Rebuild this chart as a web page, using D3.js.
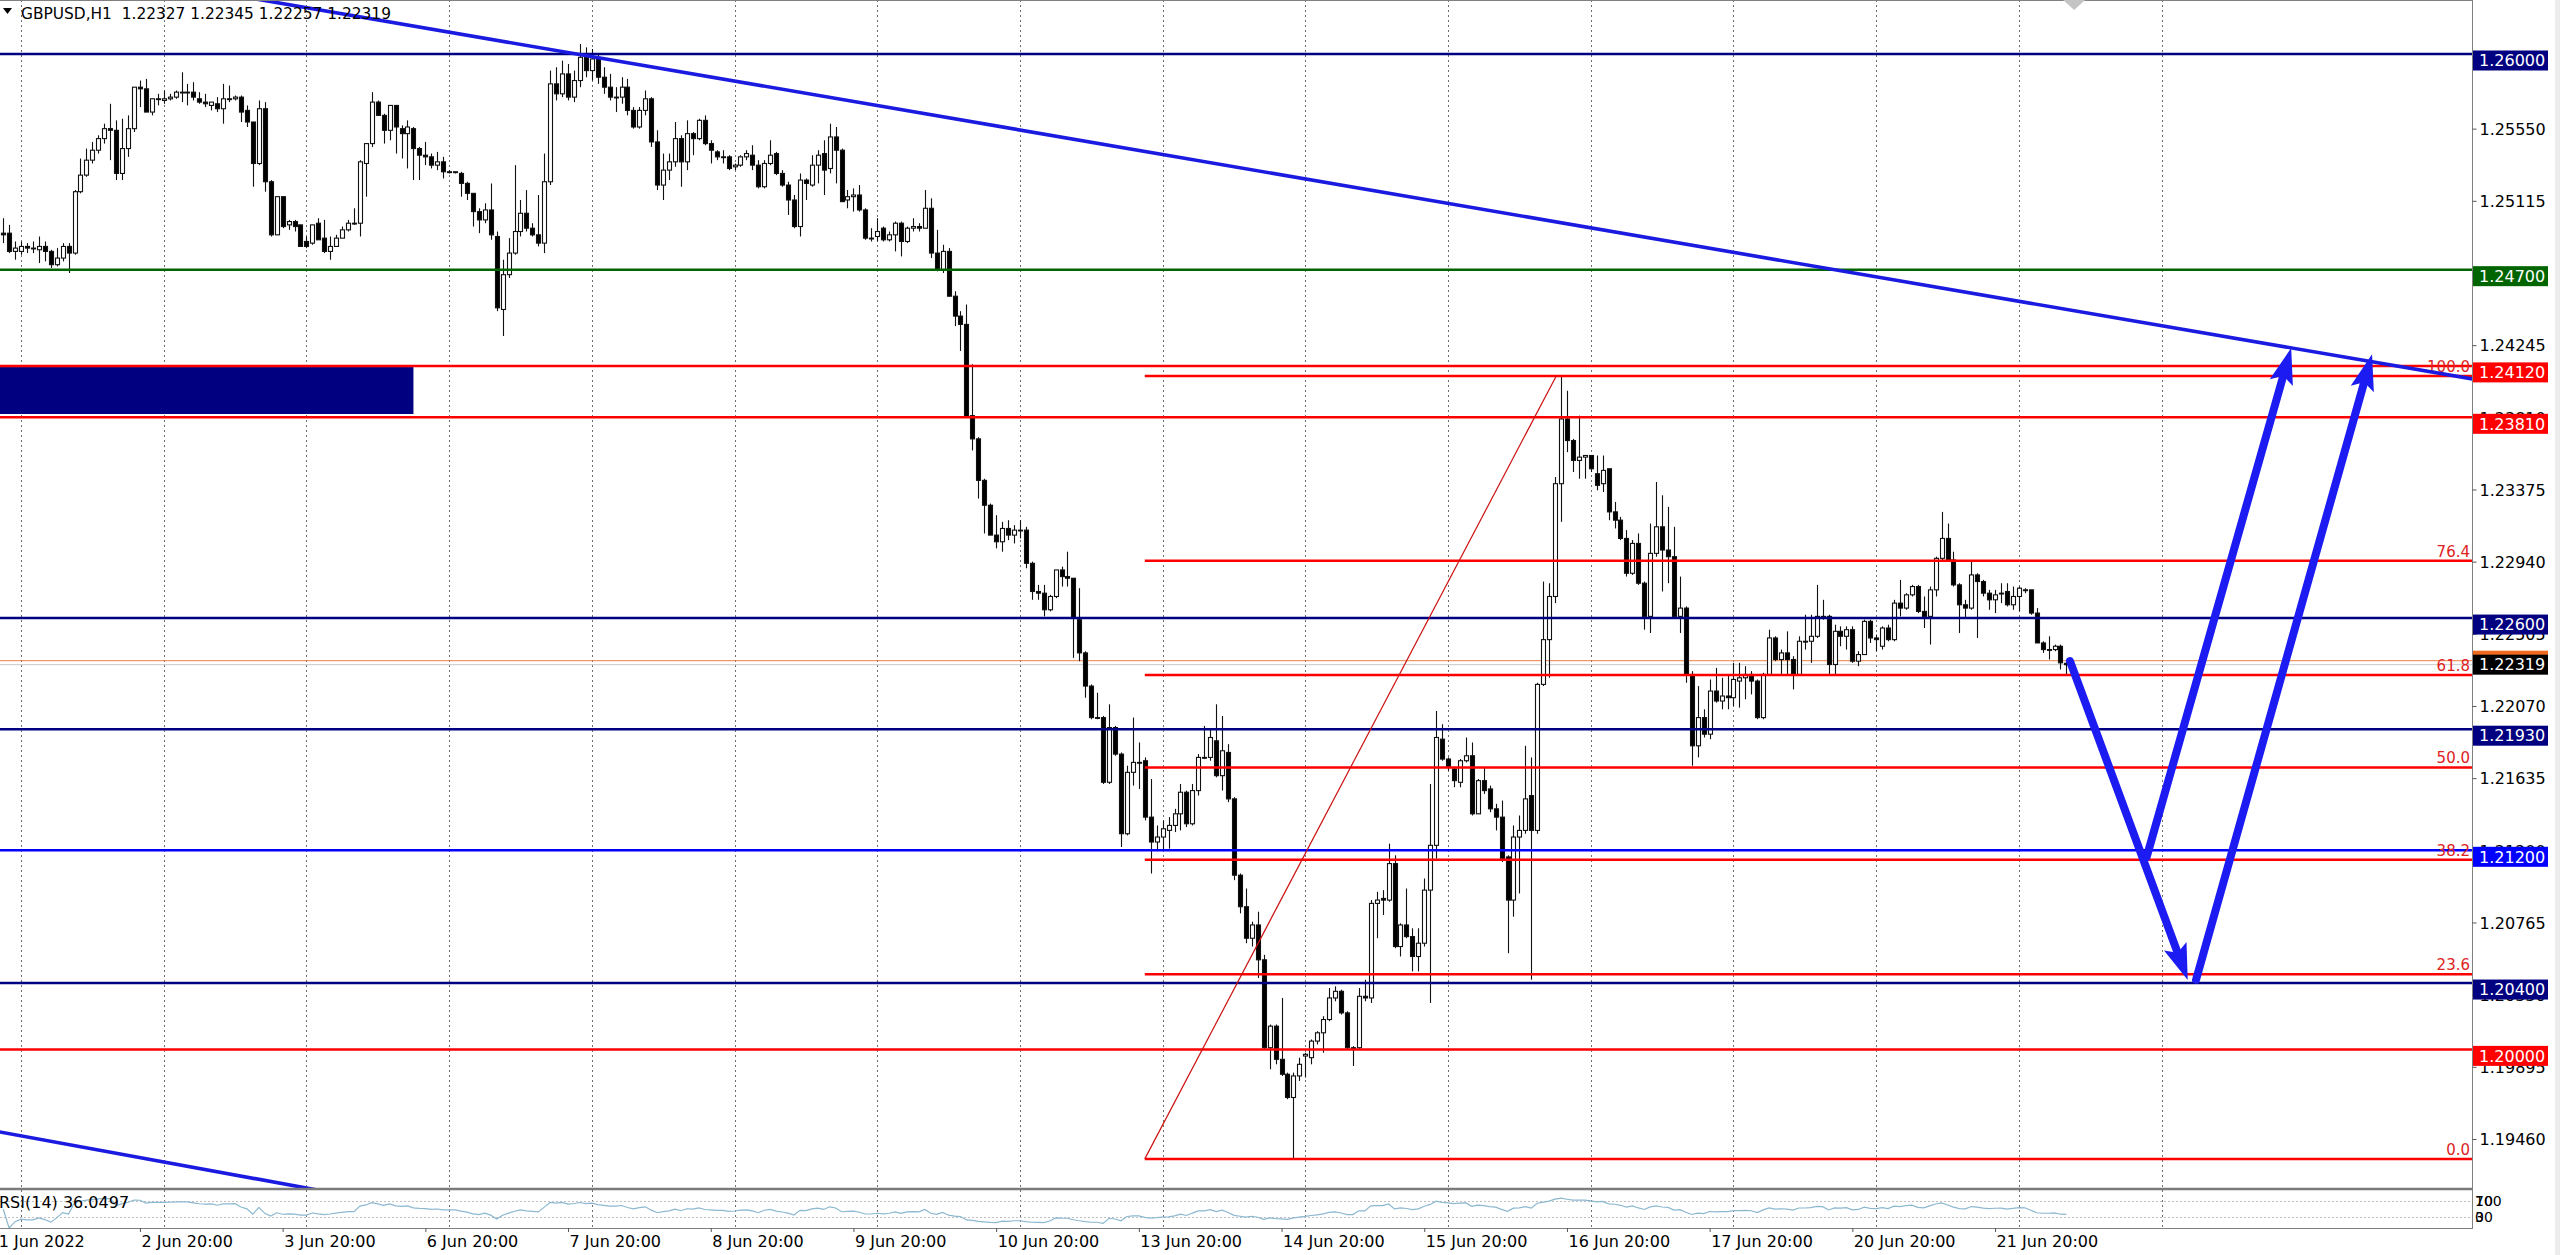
<!DOCTYPE html>
<html><head><meta charset="utf-8">
<script src="https://cdn.jsdelivr.net/npm/d3@7"></script>
<style>
html,body{margin:0;padding:0;background:#fff;overflow:hidden}
svg{display:block}
text{font-family:"DejaVu Sans",sans-serif}
</style></head><body>
<svg id="c" width="2560" height="1255"></svg>
<script>
// ---------------- DATA ----------------
// bar index = weekday hours counted from 1 Jun 2022 00:00 (H1 bars)
const firstBar = 21;
const opens = [
1.2492,1.2492,1.2481,1.2481,1.2484,1.2483,1.2482,1.2484,1.2481,1.2473,1.2477,1.2484,
1.2480,1.2517,1.2527,1.2536,1.2542,1.2549,1.2555,1.2554,1.2528,1.2543,1.2555,1.2580,
1.2579,1.2565,1.2573,1.2572,1.2573,1.2574,1.2577,1.2577,1.2577,1.2573,1.2571,1.2569,
1.2570,1.2567,1.2573,1.2573,1.2574,1.2566,1.2559,1.2534,1.2567,1.2523,1.2491,1.2514,
1.2497,1.2499,1.2497,1.2487,1.2486,1.2498,1.2489,1.2481,1.2484,1.2489,1.2494,1.2498,
1.2498,1.2534,1.2546,1.2571,1.2563,1.2554,1.2569,1.2555,1.2552,1.2555,1.2543,1.2539,
1.2538,1.2533,1.2535,1.2529,1.2529,1.2528,1.2522,1.2516,1.2505,1.2500,1.2506,1.2490,
1.2446,1.2467,1.2480,1.2493,1.2504,1.2495,1.2491,1.2486,1.2523,1.2582,1.2576,1.2588,
1.2574,1.2584,1.2598,1.2590,1.2597,1.2586,1.2580,1.2574,1.2574,1.2580,1.2566,1.2556,
1.2566,1.2573,1.2547,1.2521,1.2530,1.2535,1.2549,1.2535,1.2552,1.2549,1.2560,1.2546,
1.2541,1.2538,1.2538,1.2532,1.2533,1.2538,1.2539,1.2533,1.2520,1.2534,1.2540,1.2528,
1.2521,1.2512,1.2496,1.2524,1.2521,1.2533,1.2540,1.2531,1.2550,1.2542,1.2512,1.2514,
1.2515,1.2506,1.2489,1.2490,1.2495,1.2488,1.2491,1.2498,1.2487,1.2495,1.2496,1.2495,
1.2507,1.2480,1.2470,1.2481,1.2454,1.2442,1.2437,1.2382,1.2368,1.2343,1.2328,1.2310,
1.2306,1.2314,1.2310,1.2313,1.2313,1.2293,1.2276,1.2275,1.2265,1.2273,1.2289,1.2285,
1.2284,1.2259,1.2239,1.2219,1.2200,1.2200,1.2161,1.2194,1.2178,1.2130,1.2167,1.2173,
1.2174,1.2140,1.2125,1.2128,1.2132,1.2135,1.2142,1.2155,1.2136,1.2156,1.2176,1.2176,
1.2186,1.2165,1.2179,1.2151,1.2105,1.2086,1.2067,1.2075,1.2054,1.2001,1.2014,1.1994,
1.1985,1.1971,1.1984,1.1996,1.1995,1.2005,1.2010,1.2018,1.2031,1.2035,1.2022,1.2001,
1.2001,1.2032,1.2031,1.2088,1.2091,1.2090,1.2112,1.2062,1.2075,1.2068,1.2056,1.2064,
1.2096,1.2123,1.2187,1.2175,1.2169,1.2161,1.2174,1.2177,1.2142,1.2162,1.2157,1.2145,
1.2140,1.2116,1.2090,1.2128,1.2132,1.2153,1.2132,1.2220,1.2247,1.2273,1.2341,1.2380,
1.2367,1.2355,1.2357,1.2358,1.2347,1.2341,1.2350,1.2324,1.2319,1.2308,1.2287,1.2305,
1.2281,1.2261,1.2299,1.2315,1.2301,1.2297,1.2261,1.2266,1.2226,1.2183,1.2200,1.2190,
1.2216,1.2210,1.2213,1.2212,1.2222,1.2224,1.2226,1.2222,1.2200,1.2226,1.2248,1.2235,
1.2239,1.2235,1.2226,1.2246,1.2246,1.2249,1.2261,1.2261,1.2232,1.2252,1.2249,1.2253,
1.2234,1.2238,1.2258,1.2248,1.2243,1.2254,1.2247,1.2269,1.2266,1.2274,1.2279,1.2264,
1.2261,1.2277,1.2296,1.2308,1.2295,1.2280,1.2268,1.2266,1.2286,1.2282,1.2275,1.2271,
1.2275,1.2276,1.2268,1.2273,1.2277,1.2277,1.2263,1.2245,1.2241,1.2241,1.2243,1.22327];
const highs = [
1.2501,1.2497,1.2487,1.2487,1.2486,1.2487,1.2490,1.2487,1.2482,1.2483,1.2486,1.2486,
1.2518,1.2537,1.2543,1.2547,1.2551,1.2558,1.2570,1.2560,1.2561,1.2563,1.2580,1.2584,
1.2585,1.2573,1.2576,1.2578,1.2576,1.2578,1.2589,1.2582,1.2583,1.2577,1.2576,1.2571,
1.2574,1.2582,1.2581,1.2575,1.2575,1.2569,1.2559,1.2572,1.2571,1.2524,1.2514,1.2514,
1.2500,1.2500,1.2497,1.2490,1.2497,1.2501,1.2500,1.2490,1.2491,1.2496,1.2500,1.2507,
1.2536,1.2546,1.2577,1.2572,1.2564,1.2569,1.2569,1.2557,1.2560,1.2556,1.2544,1.2547,
1.2540,1.2541,1.2538,1.2530,1.2529,1.2529,1.2523,1.2516,1.2507,1.2510,1.2522,1.2493,
1.2476,1.2489,1.2533,1.2512,1.2518,1.2498,1.2515,1.2540,1.2590,1.2592,1.2596,1.2594,
1.2590,1.2606,1.2604,1.2603,1.2600,1.2592,1.2588,1.2580,1.2586,1.2585,1.2568,1.2568,
1.2578,1.2574,1.2554,1.2540,1.2540,1.2559,1.2551,1.2560,1.2553,1.2561,1.2563,1.2548,
1.2542,1.2542,1.2539,1.2534,1.2539,1.2542,1.2545,1.2536,1.2536,1.2548,1.2541,1.2530,
1.2523,1.2515,1.2528,1.2525,1.2539,1.2542,1.2548,1.2558,1.2556,1.2543,1.2518,1.2519,
1.2521,1.2507,1.2495,1.2501,1.2496,1.2493,1.2499,1.2499,1.2496,1.2501,1.2498,1.2518,
1.2513,1.2494,1.2485,1.2483,1.2457,1.2445,1.2449,1.2413,1.2369,1.2344,1.2329,1.2322,
1.2318,1.2319,1.2316,1.2319,1.2315,1.2294,1.2280,1.2280,1.2274,1.2289,1.2291,1.2300,
1.2284,1.2278,1.2240,1.2220,1.2215,1.2201,1.2208,1.2195,1.2179,1.2171,1.2200,1.2185,
1.2176,1.2163,1.2135,1.2138,1.2140,1.2145,1.2160,1.2156,1.2160,1.2178,1.2195,1.2193,
1.2208,1.2201,1.2184,1.2152,1.2106,1.2097,1.2077,1.2083,1.2057,1.2015,1.2015,1.2031,
1.1986,1.1986,1.1995,1.1998,1.2006,1.2011,1.2020,1.2037,1.2038,1.2036,1.2023,1.2002,
1.2037,1.2042,1.2090,1.2095,1.2096,1.2124,1.2117,1.2076,1.2097,1.2073,1.2073,1.2103,
1.2160,1.2204,1.2196,1.2176,1.2170,1.2175,1.2188,1.2185,1.2163,1.2170,1.2159,1.2148,
1.2150,1.2117,1.2135,1.2141,1.2183,1.2176,1.2221,1.2282,1.2281,1.2345,1.2406,1.2397,
1.2368,1.2382,1.2358,1.2358,1.2358,1.2358,1.2350,1.2330,1.2321,1.2313,1.2307,1.2311,
1.2282,1.2317,1.2342,1.2334,1.2327,1.2315,1.2285,1.2267,1.2228,1.2219,1.2205,1.2223,
1.2230,1.2224,1.2226,1.2233,1.2233,1.2231,1.2228,1.2223,1.2227,1.2253,1.2249,1.2241,
1.2252,1.2237,1.2249,1.2262,1.2262,1.2280,1.2271,1.2262,1.2256,1.2255,1.2255,1.2255,
1.2240,1.2259,1.2259,1.2250,1.2255,1.2256,1.2271,1.2283,1.2275,1.2280,1.2280,1.2273,
1.2279,1.2297,1.2324,1.2317,1.2300,1.2281,1.2271,1.2294,1.2287,1.2283,1.2277,1.2277,
1.2281,1.2281,1.2279,1.2279,1.2278,1.2277,1.2266,1.2246,1.2249,1.2244,1.2244,1.22345];
const lows = [
1.2486,1.2480,1.2476,1.2479,1.2480,1.2480,1.2474,1.2475,1.2471,1.2472,1.2475,1.2468,
1.2479,1.2516,1.2526,1.2534,1.2540,1.2546,1.2536,1.2524,1.2524,1.2538,1.2553,1.2568,
1.2565,1.2563,1.2569,1.2570,1.2572,1.2573,1.2571,1.2569,1.2572,1.2570,1.2568,1.2566,
1.2565,1.2558,1.2571,1.2572,1.2559,1.2556,1.2520,1.2533,1.2517,1.2490,1.2491,1.2495,
1.2494,1.2493,1.2484,1.2483,1.2485,1.2488,1.2480,1.2476,1.2484,1.2489,1.2493,1.2497,
1.2490,1.2514,1.2544,1.2563,1.2546,1.2548,1.2540,1.2537,1.2531,1.2524,1.2524,1.2533,
1.2531,1.2530,1.2525,1.2528,1.2528,1.2514,1.2512,1.2496,1.2492,1.2498,1.2488,1.2445,
1.2430,1.2465,1.2479,1.2490,1.2493,1.2490,1.2484,1.2480,1.2521,1.2572,1.2574,1.2572,
1.2571,1.2580,1.2586,1.2584,1.2582,1.2576,1.2572,1.2565,1.2570,1.2563,1.2555,1.2555,
1.2563,1.2544,1.2518,1.2512,1.2524,1.2532,1.2520,1.2530,1.2539,1.2548,1.2545,1.2534,
1.2536,1.2534,1.2530,1.2530,1.2532,1.2536,1.2530,1.2519,1.2519,1.2533,1.2527,1.2520,
1.2503,1.2495,1.2490,1.2512,1.2520,1.2522,1.2515,1.2528,1.2522,1.2511,1.2507,1.2505,
1.2505,1.2488,1.2487,1.2487,1.2487,1.2487,1.2481,1.2478,1.2486,1.2493,1.2493,1.2495,
1.2477,1.2469,1.2468,1.2454,1.2436,1.2421,1.2381,1.2361,1.2332,1.2311,1.2310,1.2302,
1.2300,1.2307,1.2305,1.2308,1.2290,1.2271,1.2271,1.2261,1.2264,1.2272,1.2279,1.2279,
1.2236,1.2234,1.2212,1.2199,1.2199,1.2160,1.2160,1.2177,1.2122,1.2129,1.2159,1.2157,
1.2138,1.2106,1.2120,1.2120,1.2121,1.2131,1.2132,1.2134,1.2135,1.2153,1.2175,1.2174,
1.2164,1.2156,1.2149,1.2102,1.2082,1.2064,1.2062,1.2043,1.2000,1.1988,1.1991,1.1984,
1.1970,1.1934,1.1981,1.1983,1.1991,1.2003,1.1998,1.2017,1.2029,1.2021,1.2000,1.1990,
1.2000,1.2029,1.2028,1.2067,1.2081,1.2089,1.2061,1.2056,1.2067,1.2047,1.2047,1.2062,
1.2028,1.2115,1.2174,1.2168,1.2158,1.2158,1.2173,1.2141,1.2142,1.2154,1.2143,1.2132,
1.2113,1.2058,1.2080,1.2094,1.2130,1.2042,1.2130,1.2219,1.2224,1.2269,1.2318,1.2360,
1.2348,1.2344,1.2344,1.2348,1.2337,1.2336,1.2319,1.2314,1.2307,1.2285,1.2286,1.2280,
1.2253,1.2251,1.2297,1.2276,1.2281,1.2260,1.2251,1.2221,1.2171,1.2176,1.2188,1.2187,
1.2209,1.2205,1.2205,1.2207,1.2206,1.2211,1.2214,1.2199,1.2199,1.2226,1.2234,1.2226,
1.2226,1.2217,1.2226,1.2241,1.2233,1.2248,1.2259,1.2226,1.2226,1.2243,1.2241,1.2233,
1.2231,1.2238,1.2245,1.2240,1.2241,1.2246,1.2246,1.2261,1.2265,1.2273,1.2263,1.2254,
1.2244,1.2273,1.2295,1.2294,1.2279,1.2251,1.2260,1.2265,1.2248,1.2273,1.2265,1.2263,
1.2269,1.2267,1.2265,1.2264,1.2275,1.2262,1.2245,1.2239,1.2235,1.2240,1.2229,1.22257];
const closes = [
1.2491,1.2481,1.2483,1.2484,1.2483,1.2483,1.2484,1.2481,1.2473,1.2477,1.2484,1.2480,
1.2517,1.2527,1.2536,1.2542,1.2549,1.2555,1.2554,1.2528,1.2543,1.2555,1.2580,1.2579,
1.2565,1.2573,1.2573,1.2573,1.2574,1.2577,1.2577,1.2577,1.2574,1.2571,1.2570,1.2571,
1.2567,1.2573,1.2573,1.2574,1.2565,1.2559,1.2534,1.2567,1.2523,1.2491,1.2514,1.2496,
1.2499,1.2496,1.2484,1.2484,1.2497,1.2488,1.2481,1.2484,1.2489,1.2494,1.2498,1.2498,
1.2535,1.2546,1.2571,1.2563,1.2554,1.2569,1.2556,1.2552,1.2556,1.2543,1.2539,1.2538,
1.2533,1.2535,1.2529,1.2529,1.2529,1.2522,1.2516,1.2505,1.2500,1.2506,1.2491,1.2447,
1.2467,1.2480,1.2493,1.2504,1.2495,1.2491,1.2486,1.2523,1.2582,1.2576,1.2588,1.2574,
1.2584,1.2598,1.2590,1.2597,1.2586,1.2580,1.2574,1.2574,1.2580,1.2566,1.2556,1.2566,
1.2573,1.2547,1.2521,1.2530,1.2535,1.2549,1.2535,1.2552,1.2549,1.2560,1.2546,1.2542,
1.2538,1.2538,1.2531,1.2533,1.2538,1.2540,1.2533,1.2520,1.2534,1.2539,1.2528,1.2521,
1.2512,1.2496,1.2524,1.2522,1.2533,1.2539,1.2530,1.2550,1.2542,1.2511,1.2514,1.2515,
1.2506,1.2489,1.2489,1.2493,1.2488,1.2491,1.2498,1.2487,1.2495,1.2496,1.2495,1.2507,
1.2480,1.2470,1.2481,1.2454,1.2442,1.2437,1.2381,1.2368,1.2343,1.2328,1.2310,1.2306,
1.2314,1.2310,1.2313,1.2313,1.2293,1.2276,1.2275,1.2265,1.2273,1.2289,1.2285,1.2284,
1.2260,1.2239,1.2219,1.2200,1.2200,1.2161,1.2194,1.2178,1.2130,1.2167,1.2173,1.2173,
1.2140,1.2125,1.2128,1.2133,1.2135,1.2142,1.2155,1.2136,1.2156,1.2176,1.2176,1.2188,
1.2165,1.2180,1.2151,1.2105,1.2086,1.2067,1.2075,1.2054,1.2001,1.2014,1.1994,1.1985,
1.1971,1.1984,1.1991,1.1997,1.2005,1.2010,1.2018,1.2031,1.2035,1.2022,1.2001,1.2001,
1.2032,1.2031,1.2088,1.2090,1.2090,1.2112,1.2062,1.2075,1.2068,1.2056,1.2064,1.2096,
1.2123,1.2188,1.2175,1.2170,1.2162,1.2174,1.2177,1.2142,1.2162,1.2156,1.2145,1.2140,
1.2115,1.2090,1.2128,1.2132,1.2151,1.2132,1.2220,1.2247,1.2273,1.2341,1.2380,1.2367,
1.2355,1.2357,1.2358,1.2350,1.2340,1.2349,1.2324,1.2319,1.2308,1.2287,1.2305,1.2281,
1.2261,1.2299,1.2315,1.2301,1.2297,1.2261,1.2266,1.2226,1.2183,1.2200,1.2190,1.2216,
1.2210,1.2213,1.2212,1.2223,1.2224,1.2226,1.2222,1.2200,1.2226,1.2248,1.2235,1.2239,
1.2235,1.2226,1.2246,1.2246,1.2249,1.2261,1.2260,1.2232,1.2252,1.2249,1.2253,1.2234,
1.2238,1.2258,1.2248,1.2247,1.2254,1.2247,1.2269,1.2266,1.2274,1.2279,1.2264,1.2261,
1.2277,1.2296,1.2308,1.2295,1.2280,1.2268,1.2266,1.2286,1.2282,1.2275,1.2271,1.2274,
1.2275,1.2268,1.2273,1.2278,1.2277,1.2263,1.2245,1.2241,1.2241,1.2243,1.2233,1.22319];

const dayNames = ["1 Jun 2022","2 Jun","3 Jun","6 Jun","7 Jun","8 Jun","9 Jun","10 Jun",
  "13 Jun","14 Jun","15 Jun","16 Jun","17 Jun","20 Jun","21 Jun"];
const priceTicks = [1.25985,1.25550,1.25115,1.24680,1.24245,1.23810,1.23375,1.22940,
  1.22505,1.22070,1.21635,1.21200,1.20765,1.20330,1.19895,1.19460];
const levelPrices = [1.26000,1.24700,1.24120,1.23810,1.22600,1.21930,1.21200,1.20400,1.20000];
const fibLevels = [0,23.6,38.2,50,61.8,76.4,100];
const fibLow = 1.19340, fibHigh = 1.24059, fibBars = [213, 282.2];
const headerSymbol = "GBPUSD,H1";
const headerOHLC = [1.22327,1.22345,1.22257,1.22319];
const bidPrice = 1.22319, askPrice = 1.22343;
const rsiLabel = "RSI(14) 36.0497";
const rsiLevels = [70,30];
const trendMain = [[119.4,1.25988],[407.3,1.24219]];
const trendLow  = [[20.5,1.19502],[71.9,1.19165]];
const zone = {bars:[0,90], prices:[1.24113,1.23830]};
const arrowPaths = [
  [[368.6,1.22341],[388.4,1.20418]],
  [[381.5,1.21160],[405.8,1.24228]],
  [[389.8,1.20420],[419.4,1.24190]]];
const shiftBar = 369.3;

// ---------------- STYLE / LAYOUT ----------------
const W=2560, H=1255, plotR=2472, mainB=1188, rsiT=1190, rsiB=1228;
const barPx = 5.946;
const levelColors = ["#000080","#006400","#ff0000","#ff0000","#000080","#000080","#0000ff","#000080","#ff0000"];
const FONT = '"DejaVu Sans",sans-serif';
const FS = 16;

const svg = d3.select("#c");
const x = d3.scaleLinear().domain([20.468, 20.468 + plotR/barPx]).range([0, plotR]);
const y = d3.scaleLinear().domain([1.191645, 1.263255]).range([mainB, 0]);
const yr = d3.scaleLinear().domain([0,100]).range([rsiB, rsiT]);

svg.append("rect").attr("width",W).attr("height",H).attr("fill","#fff");
svg.append("rect").attr("x",2555).attr("width",5).attr("height",H).attr("fill","#ececec");

const defs = svg.append("defs");
defs.append("clipPath").attr("id","mainClip").append("rect").attr("x",0).attr("y",0).attr("width",plotR).attr("height",mainB);
defs.append("clipPath").attr("id","rsiClip").append("rect").attr("x",0).attr("y",rsiT).attr("width",plotR).attr("height",rsiB-rsiT);

// vertical day grid
const gridBars = d3.range(1,17).map(k=>k*24);
svg.append("g").selectAll("line").data(gridBars).join("line")
  .attr("x1",d=>Math.round(x(d))+0.5).attr("x2",d=>Math.round(x(d))+0.5)
  .attr("y1",0).attr("y2",rsiB)
  .attr("stroke","#6e6e6e").attr("stroke-width",1).attr("stroke-dasharray","2,3");

const main = svg.append("g").attr("clip-path","url(#mainClip)");

// zone rectangle
main.append("rect")
  .attr("x",x(zone.bars[0])).attr("width",x(zone.bars[1])-x(zone.bars[0]))
  .attr("y",y(zone.prices[0])).attr("height",y(zone.prices[1])-y(zone.prices[0]))
  .attr("fill","#000080");

// bid / ask lines
main.append("line").attr("x1",0).attr("x2",plotR).attr("y1",y(askPrice)).attr("y2",y(askPrice))
  .attr("stroke","#f08040").attr("stroke-width",1);
main.append("line").attr("x1",0).attr("x2",plotR).attr("y1",y(bidPrice)).attr("y2",y(bidPrice))
  .attr("stroke","#c8c8c8").attr("stroke-width",1);

// candles
const bars = opens.map((o,k)=>({i:firstBar+k,o,h:highs[k],l:lows[k],c:closes[k]}));
const cg = main.append("g");
cg.selectAll("line").data(bars).join("line")
  .attr("x1",d=>Math.round(x(d.i))+0.5).attr("x2",d=>Math.round(x(d.i))+0.5)
  .attr("y1",d=>y(d.h)).attr("y2",d=>y(d.l))
  .attr("stroke","#111").attr("stroke-width",1.1);
cg.selectAll("rect").data(bars).join("rect")
  .attr("x",d=>Math.round(x(d.i))-1.5).attr("width",4)
  .attr("y",d=>y(Math.max(d.o,d.c))).attr("height",d=>Math.max(0.8,Math.abs(y(d.o)-y(d.c))))
  .attr("fill",d=>d.c>d.o?"#fff":"#000").attr("stroke","#111").attr("stroke-width",1.1);

// horizontal levels
main.append("g").selectAll("line").data(levelPrices).join("line")
  .attr("x1",0).attr("x2",plotR).attr("y1",d=>y(d)).attr("y2",d=>y(d))
  .attr("stroke",(d,k)=>levelColors[k]).attr("stroke-width",2.5);

// fibonacci
const fibPrice = l => fibLow + (fibHigh-fibLow)*l/100;
const fg = main.append("g");
fg.selectAll("line").data(fibLevels).join("line")
  .attr("x1",x(fibBars[0])).attr("x2",plotR).attr("y1",d=>y(fibPrice(d))).attr("y2",d=>y(fibPrice(d)))
  .attr("stroke","#ff0000").attr("stroke-width",2.5);
fg.append("line").attr("x1",x(fibBars[0])).attr("y1",y(fibLow)).attr("x2",x(fibBars[1])).attr("y2",y(fibHigh))
  .attr("stroke","#cc1111").attr("stroke-width",1.2);
fg.selectAll("text").data(fibLevels).join("text")
  .attr("x",plotR-2).attr("y",d=>y(fibPrice(d))-4).attr("text-anchor","end")
  .attr("font-size",15).attr("fill","#dd2222").style("font-family",FONT)
  .text(d=>d3.format(".1f")(d));

// trend lines (extended through the plot)
function extLine(pts){
  const [[i1,p1],[i2,p2]] = pts; const s=(p2-p1)/(i2-i1);
  const a=x.domain()[0]-50, b=x.domain()[1]+50;
  return [[x(a),y(p1+s*(a-i1))],[x(b),y(p1+s*(b-i1))]];
}
[trendMain,trendLow].forEach(t=>{
  const e = extLine(t);
  main.append("line").attr("x1",e[0][0]).attr("y1",e[0][1]).attr("x2",e[1][0]).attr("y2",e[1][1])
    .attr("stroke","#1a1ae0").attr("stroke-width",3.6);
});

// arrows
const ag = svg.append("g");
arrowPaths.forEach(([s,e])=>{
  const x0=x(s[0]), y0=y(s[1]), x1=x(e[0]), y1=y(e[1]);
  const dx=x1-x0, dy=y1-y0, L=Math.hypot(dx,dy), ux=dx/L, uy=dy/L, px=-uy, py=ux;
  const hl=36, hw=12;
  const bx=x1-ux*hl, by=y1-uy*hl;
  ag.append("line").attr("x1",x0).attr("y1",y0).attr("x2",bx+ux*4).attr("y2",by+uy*4)
    .attr("stroke","#1c1cf2").attr("stroke-width",8).attr("stroke-linecap","round");
  ag.append("polygon").attr("points",[[x1,y1],[bx+px*hw,by+py*hw],[bx+ux*7,by+uy*7],[bx-px*hw,by-py*hw]].map(p=>p.join(",")).join(" "))
    .attr("fill","#1c1cf2");
});

// frames
svg.append("line").attr("x1",0).attr("x2",plotR).attr("y1",0.5).attr("y2",0.5).attr("stroke","#808080");
svg.append("line").attr("x1",0).attr("x2",plotR+1).attr("y1",mainB+1).attr("y2",mainB+1).attr("stroke","#7a7a7a").attr("stroke-width",2.5);
svg.append("line").attr("x1",0).attr("x2",plotR+1).attr("y1",rsiB+0.5).attr("y2",rsiB+0.5).attr("stroke","#808080");
svg.append("line").attr("x1",plotR+0.5).attr("x2",plotR+0.5).attr("y1",0).attr("y2",rsiB+1).attr("stroke","#808080");

// shift marker
svg.append("polygon").attr("points",[[x(shiftBar)-11,0],[x(shiftBar)+11,0],[x(shiftBar),10]].map(p=>p.join(",")).join(" "))
  .attr("fill","#c4c4c4");

// RSI panel
function rsiCalc(cl,n){
  const out=[50]; let ag2=0, al=0;
  for(let k=1;k<cl.length;k++){
    const d=cl[k]-cl[k-1], g=Math.max(d,0), l=Math.max(-d,0), m=Math.min(k,n);
    ag2=(ag2*(m-1)+g)/m; al=(al*(m-1)+l)/m;
    out.push(al===0?100:100-100/(1+ag2/al));
  }
  return out;
}
const rsiVals = rsiCalc(closes,14);
const rg = svg.append("g").attr("clip-path","url(#rsiClip)");
rg.selectAll("line").data(rsiLevels).join("line")
  .attr("x1",0).attr("x2",plotR).attr("y1",d=>Math.round(yr(d))+0.5).attr("y2",d=>Math.round(yr(d))+0.5)
  .attr("stroke","#c0c0c0").attr("stroke-dasharray","2,2");
rg.append("path").datum(rsiVals)
  .attr("d",d3.line().x((d,k)=>x(firstBar+k)).y(d=>yr(d)))
  .attr("fill","none").attr("stroke","#8cb8d0").attr("stroke-width",1.2);
svg.append("text").attr("x",-1).attr("y",rsiT+18).attr("font-size",FS).style("font-family",FONT)
  .attr("fill","#000").text(rsiLabel);
[["100",70],["70",70],["30",30],["0",30]].forEach(([t,v])=>{
  svg.append("text").attr("x",plotR+3).attr("y",yr(v)+5).attr("font-size",14).style("font-family",FONT)
    .attr("fill","#000").text(t);
});

// header
svg.append("polygon").attr("points","3,8 12,8 7.5,14").attr("fill","#000");
svg.append("text").attr("x",21).attr("y",19).attr("font-size",15.4).style("font-family",FONT)
  .attr("fill","#000").style("white-space","pre")
  .text(headerSymbol + "  " + headerOHLC.map(v=>v.toFixed(5)).join(" "));

// price axis
const yAxis = d3.axisRight(y).tickValues(priceTicks).tickSize(4).tickFormat(d3.format(".5f"));
const ya = svg.append("g").attr("transform",`translate(${plotR+0.5},0)`).call(yAxis);
ya.select(".domain").remove();
ya.selectAll(".tick line").attr("stroke","#555");
ya.selectAll("text").attr("x",7).attr("dy","0.36em").attr("font-size",FS).style("font-family",FONT).attr("fill","#000");

// level labels
const lab = svg.append("g");
levelPrices.forEach((p,k)=>{
  const yy=y(p);
  lab.append("rect").attr("x",plotR+1).attr("y",yy-3.5).attr("width",75).attr("height",20).attr("fill",levelColors[k]);
  lab.append("text").attr("x",plotR+7).attr("y",yy+6.5).attr("dy","0.36em").attr("font-size",FS)
    .style("font-family",FONT).attr("fill","#fff").text(d3.format(".5f")(p));
});
// ask (behind) and bid labels
lab.append("rect").attr("x",plotR+1).attr("y",y(askPrice)-10).attr("width",75).attr("height",20).attr("fill","#f06a20");
lab.append("rect").attr("x",plotR+1).attr("y",y(bidPrice)-10).attr("width",75).attr("height",20).attr("fill","#000");
lab.append("text").attr("x",plotR+7).attr("y",y(bidPrice)).attr("dy","0.36em").attr("font-size",FS)
  .style("font-family",FONT).attr("fill","#fff").text(d3.format(".5f")(bidPrice));

// time axis
const labelBars = dayNames.map((d,k)=>k*24+20);
const xAxis = d3.axisBottom(x).tickValues(labelBars).tickSize(4)
  .tickFormat((d,k)=> k===0 ? dayNames[0] : dayNames[k]+" 20:00");
const xa = svg.append("g").attr("transform",`translate(0,${rsiB})`).call(xAxis);
xa.select(".domain").remove();
xa.selectAll(".tick line").attr("stroke","#555");
xa.selectAll("text").attr("text-anchor","start").attr("x",1).attr("y",8).attr("dy","0.71em")
  .attr("font-size",FS).style("font-family",FONT).attr("fill","#000");
</script>
</body></html>
